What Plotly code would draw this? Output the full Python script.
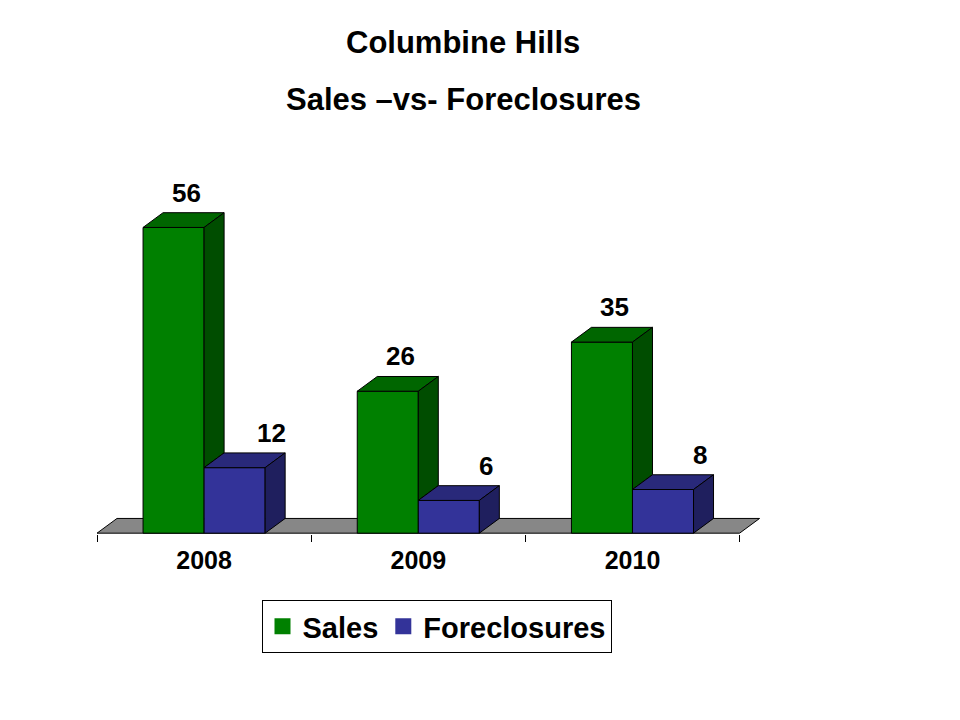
import plotly.graph_objects as go

# ---- data ----
years = ["2008", "2009", "2010"]
sales = [56, 26, 35]
foreclosures = [12, 6, 8]
series_names = ["Sales", "Foreclosures"]
title_lines = ["Columbine Hills", "Sales \u2013vs- Foreclosures"]

# ---- style ----
FONT = "Arial, Liberation Sans, Arimo, sans-serif"
W = 0.285          # bar width (x units)
DX = 0.0934        # depth offset in x units
DY = 2.7           # depth offset in y units
colors = {
    "Sales": {"front": "#008000", "side": "#004d00", "top": "#006600"},
    "Foreclosures": {"front": "#333399", "side": "#1f1f5e", "top": "#29297a"},
}

xs = list(range(len(years)))
fig = go.Figure()

# front faces as bars
fig.add_trace(go.Bar(x=xs, y=sales, width=W, offset=-W, name=series_names[0], showlegend=False,
                     marker=dict(color=colors["Sales"]["front"], line=dict(color="black", width=1)),
                     hoverinfo="skip"))
fig.add_trace(go.Bar(x=xs, y=foreclosures, width=W, offset=0, name=series_names[1], showlegend=False,
                     marker=dict(color=colors["Foreclosures"]["front"], line=dict(color="black", width=1)),
                     hoverinfo="skip"))


def poly(px, py, color):
    fig.add_trace(go.Scatter(x=px + [px[0]], y=py + [py[0]], mode="lines", fill="toself",
                             fillcolor=color, line=dict(color="black", width=1),
                             showlegend=False, hoverinfo="skip"))


for i, (s, f) in enumerate(zip(sales, foreclosures)):
    # Sales box: x from i-W to i
    xl, xr = i - W, i
    poly([xl, xr, xr + DX, xl + DX], [s, s, s + DY, s + DY], colors["Sales"]["top"])
    if f < s:
        poly([xr, xr + DX, xr + DX, xr], [f, f + DY, s + DY, s], colors["Sales"]["side"])
    # Foreclosures box: x from i to i+W
    fl, fr = i, i + W
    poly([fl, fr, fr + DX, fl + DX], [f, f, f + DY, f + DY], colors["Foreclosures"]["top"])
    poly([fr, fr + DX, fr + DX, fr], [0, DY, f + DY, f], colors["Foreclosures"]["side"])

# legend entries (larger square symbols)
for name in series_names:
    fig.add_trace(go.Scatter(x=[None], y=[None], mode="markers", name=name,
                             marker=dict(symbol="square", size=16, color=colors[name]["front"],
                                         line=dict(width=0)),
                             hoverinfo="skip"))

# floor
x0, x1 = -0.5, len(years) - 0.5
fig.add_shape(type="path", layer="below", xref="x", yref="y",
              path=f"M{x0},0 L{x1},0 L{x1 + DX},{DY} L{x0 + DX},{DY} Z",
              fillcolor="#878787", line=dict(color="black", width=1))

# value labels
annotations = []
for i, (s, f) in enumerate(zip(sales, foreclosures)):
    annotations.append(dict(x=i - W / 2 + DX / 2, y=s + DY, text=str(s), showarrow=False,
                            xref="x", yref="y", yanchor="bottom", xshift=3, yshift=3,
                            font=dict(family=FONT, size=26, color="black", weight="bold")))
    annotations.append(dict(x=i + W / 2 + DX / 2, y=f + DY, text=str(f), showarrow=False,
                            xref="x", yref="y", yanchor="bottom", xshift=27, yshift=3,
                            font=dict(family=FONT, size=26, color="black", weight="bold")))

# title lines, positioned in paper coordinates from the pixel layout
ML, MR, MT, MB = 97, 199, 151, 186
plot_w = 960 - ML - MR
plot_h = 720 - MT - MB
tx = (463 - ML) / plot_w
for line, ypix in zip(title_lines, [42, 100]):
    annotations.append(dict(x=tx, y=(MT + plot_h - ypix) / plot_h, xref="paper", yref="paper",
                            text=line, showarrow=False, yanchor="middle", xanchor="center",
                            font=dict(family=FONT, size=31, color="black", weight="bold")))

fig.update_layout(
    width=960, height=720,
    margin=dict(l=ML, r=MR, t=MT, b=MB),
    plot_bgcolor="white", paper_bgcolor="white",
    barmode="overlay",
    showlegend=True,
    legend=dict(orientation="h", x=(436.5 - ML) / plot_w, xanchor="center",
                y=-(600 - (MT + plot_h)) / plot_h, yanchor="top",
                bordercolor="black", borderwidth=1, bgcolor="white",
                font=dict(family=FONT, size=29, color="black", weight="bold"),
                traceorder="normal", itemsizing="trace"),
    xaxis=dict(range=[-0.5, 2.6], tickvals=xs, ticktext=years, ticks="",
               showgrid=False, zeroline=False, showline=False,
               ticklabelstandoff=9,
               tickfont=dict(family=FONT, size=25, color="black", weight="bold"),
               minor=dict(tickmode="array", tickvals=[-0.5, 0.5, 1.5, 2.5], ticks="outside",
                          ticklen=7, tickcolor="black", tickwidth=1, showgrid=False)),
    yaxis=dict(range=[-0.15, 70], visible=False, showgrid=False, zeroline=False),
    annotations=annotations,
)

fig.write_html("out.html", config={"displayModeBar": False},
               post_script="document.body.style.margin='0px';")
